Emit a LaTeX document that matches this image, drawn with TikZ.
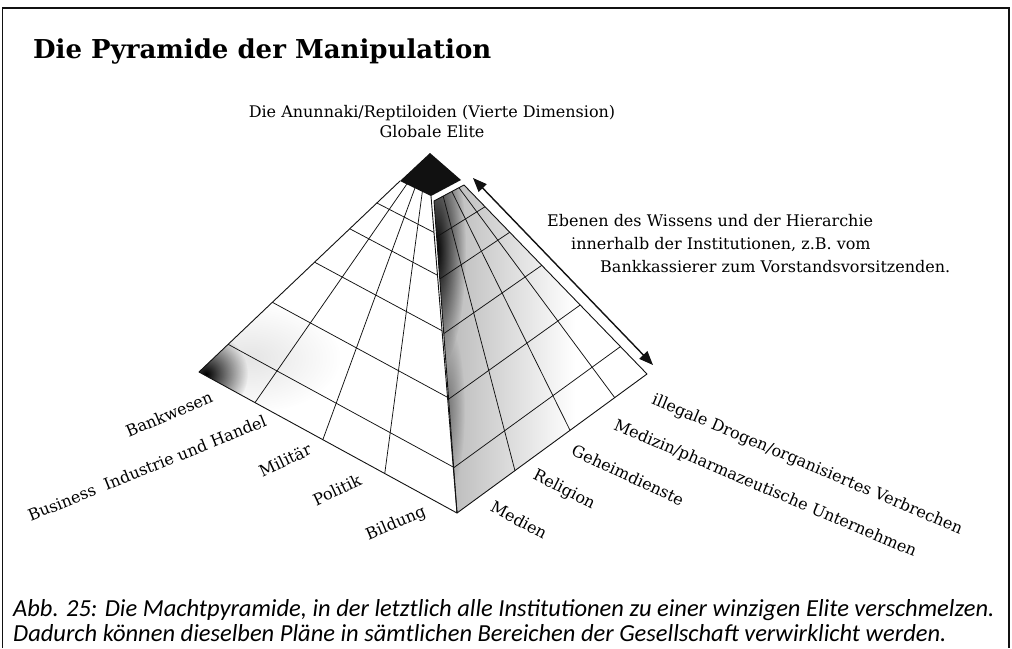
\documentclass[tikz,border=0pt]{standalone}
\usepackage{fontspec}
\setmainfont{DejaVu Serif}
\newfontfamily\capfont{Carlito}
\usetikzlibrary{arrows.meta,calc,fadings}
\definecolor{inkBlack}{HTML}{111111}
\tikzfading[name=softspot,inner color=transparent!0,outer color=transparent!100]
\tikzset{
    frame/.style={draw=inkBlack,line width=1.4pt},
    titletext/.style={font=\bfseries\fontsize{26}{30}\selectfont,anchor=base west,inner sep=0pt},
    toptext/.style={font=\fontsize{16}{19}\selectfont,anchor=base,inner sep=0pt},
    sidetext/.style={font=\fontsize{16}{19}\selectfont,anchor=base west,inner sep=0pt},
    tierlabel/.style={font=\fontsize{16}{18}\selectfont,inner sep=0pt},
    edge/.style={draw=inkBlack,line width=0.9pt,line join=round},
    gridline/.style={draw=inkBlack,line width=0.75pt},
    levelarrow/.style={{Triangle[length=14pt,width=11pt]}-{Triangle[length=14pt,width=11pt]},
        draw=inkBlack,line width=1.4pt},
    caption/.style={font=\capfont\itshape\fontsize{24.5}{27}\selectfont,anchor=base west,inner sep=0pt}
}
\begin{document}
\begin{tikzpicture}[x=1pt,y=-1pt]
    \useasboundingbox (0,0) rectangle (1012,648);
    \fill[white] (0,0) rectangle (1012,648);
    \draw[frame] (2.5,648) -- (2.5,8) -- (1009,8) -- (1009,648);

    \node[titletext] (title) at (33,58) {Die Pyramide der Manipulation};
    \node[toptext] (anunnaki) at (432,117) {Die Anunnaki/Reptiloiden (Vierte Dimension)};
    \node[toptext] (elite) at (432,137) {Globale Elite};

    % pyramid corners
    \coordinate (leftB) at (199,372);
    \coordinate (frontB) at (457,513);
    \coordinate (rightB) at (647,374);
    \coordinate (leftT) at (400,181);
    \coordinate (frontT) at (431,196);
    \coordinate (frontT2) at (434,201);
    \coordinate (rightT) at (464,185);

    % shading
    \begin{scope}
        \clip (leftB) -- (frontB) -- (frontT) -- (leftT) -- cycle;
        \fill[black!10,path fading=softspot] (250,358) ellipse (90 and 55);
        \fill[black,path fading=softspot] (206,374) circle (42);
    \end{scope}
    \begin{scope}
        \clip (frontB) -- (rightB) -- (rightT) -- (frontT2) -- cycle;
        \shade[left color=black!30,right color=white] (432,180) rectangle (575,515);
        \fill[black,path fading=softspot] (436,250) ellipse (30 and 120);
        \fill[black!55,path fading=softspot] (447,410) ellipse (18 and 85);
    \end{scope}

    % grid
    \foreach \r in {0.145,0.365,0.575,0.75,0.885} {
        \draw[gridline] ($(leftB)!\r!(leftT)$) -- ($(frontB)!\r!(frontT)$);
        \draw[gridline] ($(frontB)!\r!(frontT2)$) -- ($(rightB)!\r!(rightT)$);
    }
    \foreach \c in {0.217,0.48,0.72}
        \draw[gridline] ($(leftB)!\c!(frontB)$) -- ($(leftT)!\c!(frontT)$);
    \foreach \c in {0.305,0.595,0.83}
        \draw[gridline] ($(frontB)!\c!(rightB)$) -- ($(frontT2)!\c!(rightT)$);
    \draw[edge] (leftT) -- (leftB) -- (frontB) -- (frontT);
    \draw[edge] (frontT2) -- (frontB) -- (rightB) -- (rightT) -- cycle;

    % capstone
    \fill[inkBlack] (430,153) -- (461,180) -- (431,196) -- (400,181) -- cycle;

    % levels arrow
    \coordinate (lvtop) at (473,178);
    \coordinate (lvbot) at (653,365);
    \draw[levelarrow] (lvtop) -- (lvbot);
    \node[sidetext] (ebene1) at (547,226) {Ebenen des Wissens und der Hierarchie};
    \node[sidetext] (ebene2) at (571,249) {innerhalb der Institutionen, z.B. vom};
    \node[sidetext] (ebene3) at (600,272) {Bankkassierer zum Vorstandsvorsitzenden.};

    % left labels
    \node[tierlabel,rotate=23] (bank) at (169,414) {Bankwesen};
    \node[tierlabel,rotate=22] (business) at (147,468) {Business~ Industrie und Handel};
    \node[tierlabel,rotate=25] (militaer) at (285,460) {Militär};
    \node[tierlabel,rotate=25] (politik) at (337,490) {Politik};
    \node[tierlabel,rotate=23] (bildung) at (396,524) {Bildung};

    % right labels
    \node[tierlabel,rotate=-23] (drogen) at (807,465) {illegale Drogen/organisiertes Verbrechen};
    \node[tierlabel,rotate=-23] (medizin) at (765,489) {Medizin/pharmazeutische Unternehmen};
    \node[tierlabel,rotate=-25] (geheim) at (628,475) {Geheimdienste};
    \node[tierlabel,rotate=-27] (religion) at (564,490) {Religion};
    \node[tierlabel,rotate=-28] (medien) at (519,520) {Medien};

    % caption
    \node[caption] (cap1) at (13,616) {Abb. 25: Die Machtpyramide, in der letztlich alle Institutionen zu einer winzigen Elite verschmelzen.};
    \node[caption] (cap2) at (13,641) {Dadurch können dieselben Pläne in sämtlichen Bereichen der Gesellschaft verwirklicht werden.};
\end{tikzpicture}
\end{document}
